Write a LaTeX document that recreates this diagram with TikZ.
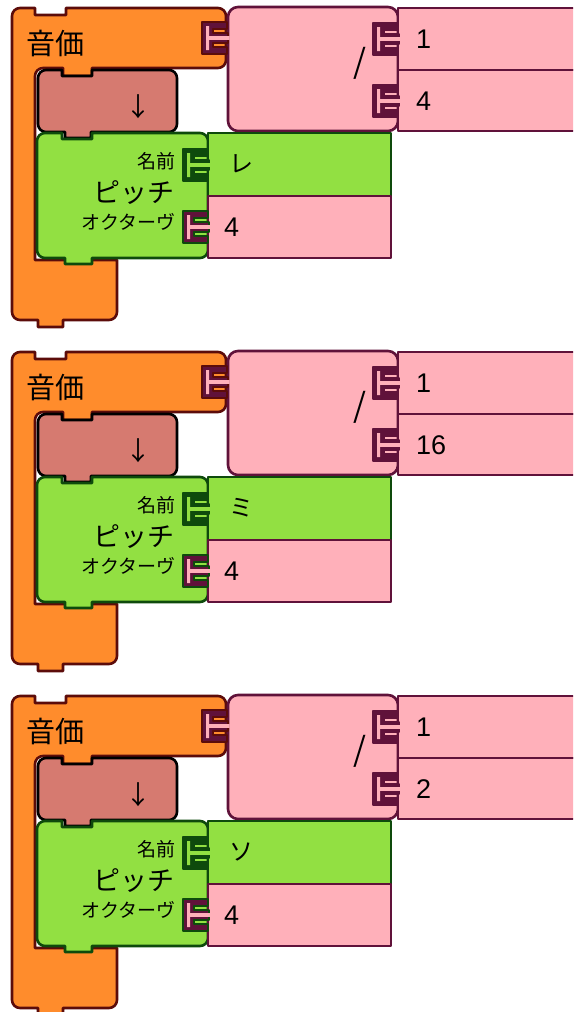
\documentclass[tikz,border=0pt]{standalone}
\usepackage{fontspec}
\setmainfont{Liberation Sans}
\newfontfamily\jp{Noto Sans CJK JP}
\definecolor{orfill}{RGB}{255,140,44}
\definecolor{orline}{RGB}{92,12,10}
\definecolor{pkfill}{RGB}{255,176,186}
\definecolor{pkline}{RGB}{96,18,58}
\definecolor{grfill}{RGB}{146,224,66}
\definecolor{grline}{RGB}{14,74,12}
\definecolor{brfill}{RGB}{214,122,112}
% socket: #1 edge x, #2 centre y, #3 parent stroke, #4 child stroke, #5 child fill
\newcommand\mbsock[5]{%
  \filldraw[draw=#3,fill=#4,line width=1.4pt]
    (#1,{#2-16}) -- ({#1-25},{#2-16}) -- ({#1-25},{#2+16}) -- (#1,{#2+16})
    -- (#1,{#2+9}) -- ({#1-14},{#2+9}) -- ({#1-14},{#2+5}) -- ({#1+1},{#2+5})
    -- ({#1+1},{#2-5}) -- ({#1-14},{#2-5}) -- ({#1-14},{#2-9}) -- (#1,{#2-9}) -- cycle;
  \fill[#5] ({#1+2.5},{#2-1.8}) -- ({#1-18},{#2-1.8}) -- ({#1-18},{#2-12}) -- ({#1-21},{#2-12})
    -- ({#1-21},{#2+12}) -- ({#1-18},{#2+12}) -- ({#1-18},{#2+1.8}) -- ({#1+2.5},{#2+1.8}) -- cycle;
}
\begin{document}
\begin{tikzpicture}[x=1pt,y=-1pt,line join=round,
  blk/.style={line width=2.6pt},
  orblk/.style={blk,fill=orfill,draw=orline},
  pkblk/.style={blk,fill=pkfill,draw=pkline},
  grblk/.style={blk,fill=grfill,draw=grline},
  brblk/.style={blk,fill=brfill,draw=black},
  big/.style={inner sep=0pt,font=\jp\fontsize{29pt}{29pt}\selectfont},
  mid/.style={inner sep=0pt,font=\jp\fontsize{27pt}{27pt}\selectfont},
  small/.style={inner sep=0pt,font=\jp\fontsize{19pt}{19pt}\selectfont},
  val/.style={inner sep=0pt,font=\jp\fontsize{24pt}{24pt}\selectfont},
  num/.style={inner sep=0pt,font=\fontsize{27pt}{27pt}\selectfont},
  arrowlbl/.style={inner sep=0pt,font=\jp\fontsize{26pt}{26pt}\selectfont},
  slash/.style={inner sep=0pt,font=\jp\fontsize{33pt}{33pt}\selectfont}]
\useasboundingbox (0,0) rectangle (573,1012);
\clip (0,0) rectangle (573,1012);
\foreach \o/\den/\nm [count=\k] in {0/4/レ,344/16/ミ,688/2/ソ}{
\begin{scope}[shift={(0,\o)}]
  % orange clamp
  \draw[orblk] (12,16) arc[start angle=180,end angle=270,radius=8] -- (35,8) -- (35,15) -- (66,15) -- (66,8)
    -- (218,8) arc[start angle=270,end angle=360,radius=8] -- (226,60) arc[start angle=0,end angle=90,radius=8]
    -- (92,68) -- (92,76) -- (63,76) -- (63,68) -- (43,68) arc[start angle=270,end angle=180,radius=8]
    -- (35,260) -- (117,260) -- (117,312) arc[start angle=0,end angle=90,radius=8]
    -- (63,320) -- (63,327) -- (38,327) -- (38,320) -- (20,320) arc[start angle=90,end angle=180,radius=8] -- cycle;
  % divide block
  \draw[pkblk] (228,17) arc[start angle=180,end angle=270,radius=10] -- (388,7) arc[start angle=270,end angle=360,radius=10]
    -- (398,121) arc[start angle=0,end angle=90,radius=10] -- (238,131) arc[start angle=90,end angle=180,radius=10] -- cycle;
  \draw[pkblk] (398,8) rectangle (590,70);
  \draw[pkblk] (398,70) rectangle (590,131);
  % brown block
  \draw[brblk] (38,78) arc[start angle=180,end angle=270,radius=8] -- (62,70) -- (62,76) -- (92,76) -- (92,70)
    -- (169,70) arc[start angle=270,end angle=360,radius=8] -- (177,124) arc[start angle=0,end angle=90,radius=8]
    -- (91,132) -- (91,138) -- (65,138) -- (65,132) -- (46,132) arc[start angle=90,end angle=180,radius=8] -- cycle;
  % green pitch block
  \draw[grblk] (37,141) arc[start angle=180,end angle=270,radius=8] -- (62,133) -- (62,139) -- (92,139) -- (92,133)
    -- (200,133) arc[start angle=270,end angle=360,radius=8] -- (208,250) arc[start angle=0,end angle=90,radius=8]
    -- (92,258) -- (92,264) -- (65,264) -- (65,258) -- (45,258) arc[start angle=90,end angle=180,radius=8] -- cycle;
  \draw[grblk] (208,133) rectangle (391,196);
  \draw[pkblk] (208,196) rectangle (391,258);
  % sockets
  \mbsock{227}{38}{orline}{pkline}{pkfill}
  \mbsock{398}{39}{pkline}{pkline}{pkfill}
  \mbsock{398}{101}{pkline}{pkline}{pkfill}
  \mbsock{208}{165}{grline}{grline}{grfill}
  \mbsock{208}{227}{grline}{pkline}{pkfill}
  % labels
  \node[big] (nv\k) at (56,43.5) {音価};
  \node[arrowlbl] (ar\k) at (138,107) {↓};
  \node[small,anchor=east] (nm\k) at (176,161) {名前};
  \node[mid,anchor=east] (pi\k) at (175,193) {ピッチ};
  \node[small,anchor=east] (oc\k) at (176,222) {オクターヴ};
  \node[slash] (sl\k) at (360,63) {/};
  \node[num,anchor=west] (one\k) at (416,39) {1};
  \node[num,anchor=west] (den\k) at (416,101) {\den};
  \node[val] (pn\k) at (241,164) {\nm};
  \node[num,anchor=west] (oct\k) at (224,227) {4};
\end{scope}
}
\end{tikzpicture}
\end{document}
